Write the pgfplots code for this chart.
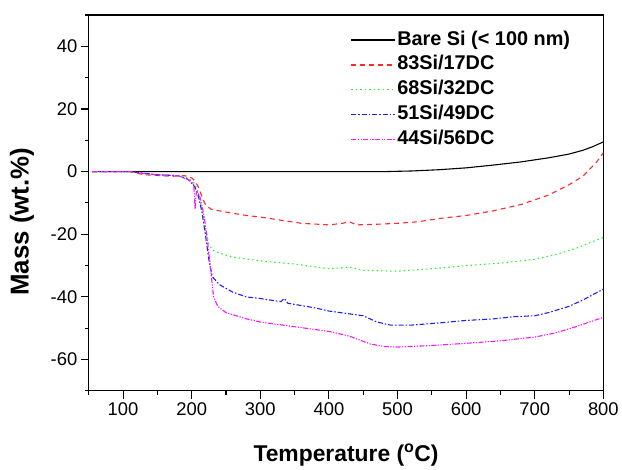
\documentclass[border=0pt]{standalone}
\usepackage{fontspec}
\setmainfont{Liberation Sans}
\usepackage{pgfplots}
\pgfplotsset{compat=1.18}
\definecolor{cred}{RGB}{255,40,40}
\definecolor{cgreen}{RGB}{40,240,40}
\definecolor{cblue}{RGB}{30,30,245}
\definecolor{cmag}{RGB}{250,20,250}

\begin{document}
\begin{tikzpicture}
\begin{axis}[
    name=ax,
    at={(0,0)}, anchor=south west,
    scale only axis,
    width=516bp, height=377bp,
    xmin=50, xmax=800,
    ymin=-70, ymax=50,
    xtick={100,200,...,800},
    ytick={-60,-40,...,40},
    minor xtick={50,150,...,750},
    minor ytick={-70,-50,...,50},
    xtick pos=bottom, ytick pos=left,
    tick align=outside,
    major tick length=8bp,
    minor tick length=4bp,
    axis line style={line width=1.1pt},
    tick style={line width=1.1pt, black},
    /pgf/number format/assume math mode=true,
    tick label style={font=\fontsize{18.5}{20}\selectfont},
    xlabel={Temperature (\textsuperscript{o}C)},
    ylabel={Mass (wt.\%)},
    xlabel style={font=\fontsize{23}{25}\selectfont\bfseries, yshift=-22bp},
    ylabel style={font=\fontsize{26}{28}\selectfont\bfseries, yshift=10bp,
        at={(ticklabel cs:0.45)}},
    legend style={
        draw=none, fill=none,
        at={(0.503,0.967)}, anchor=north west,
        font=\fontsize{20}{22}\selectfont\bfseries,
        cells={anchor=west},
        row sep=4bp,
        nodes={inner sep=1.5bp, text height=14bp, text depth=4bp},
    },
    every axis plot/.append style={line width=1.1pt},
]
\addplot[color=black,
    legend image code/.code={\draw[black, line width=1.1pt] (0bp,0bp) -- (44bp,0bp);}] coordinates {
(55,0) (100,0) (200,0) (300,0) (400,0) (480,0) (520,0.2) (560,0.6) (600,1.2)
(640,2.1) (680,3.1) (720,4.4) (750,5.6) (770,6.8) (785,8) (800,9.5)};
\addlegendentry{Bare Si (< 100 nm)}
\addplot[color=cred, dash pattern=on 5bp off 4bp,
    legend image code/.code={\draw[cred, line width=1.1pt, dash pattern=on 5bp off 4bp] (0bp,0bp) -- (44bp,0bp);}] coordinates {
(55,0) (110,0) (120,-0.5) (130,-1) (150,-1.2) (170,-1.5) (190,-1.3) (200,-2)
(205,-3) (210,-5) (215,-8) (220,-10.5) (228,-12) (240,-12.5) (260,-13.3)
(280,-14) (300,-14.5) (330,-15.5) (360,-16.5) (400,-17) (420,-16.5) (430,-16)
(440,-17) (470,-16.8) (500,-16.5) (530,-16) (560,-15) (600,-14) (640,-12.5)
(680,-10.5) (720,-7.5) (750,-4.2) (770,-1.5) (790,3) (800,6)};
\addlegendentry{83Si/17DC}
\addplot[color=cgreen, dash pattern=on 1.5bp off 3bp,
    legend image code/.code={\draw[cgreen, line width=1.1pt, dash pattern=on 1.5bp off 3bp] (0bp,0bp) -- (44bp,0bp);}] coordinates {
(55,0) (110,0) (130,-0.8) (150,-1) (180,-1.2) (195,-2) (205,-4) (210,-7)
(215,-12) (220,-18) (225,-23) (230,-25) (240,-26) (260,-27.3) (300,-28.5)
(350,-29.5) (400,-31) (430,-30.5) (450,-31.5) (500,-31.8) (550,-31) (600,-30)
(650,-29.2) (700,-28) (730,-26.5) (760,-24.5) (800,-21)};
\addlegendentry{68Si/32DC}
\addplot[color=cblue, dash pattern=on 5bp off 2bp on 1.5bp off 2bp,
    legend image code/.code={\draw[cblue, line width=1.1pt, dash pattern=on 5bp off 2bp on 1.5bp off 2bp] (0bp,0bp) -- (44bp,0bp);}] coordinates {
(55,0) (110,0) (130,-0.5) (150,-1) (180,-1.3) (195,-2.5) (205,-5) (210,-8)
(215,-13) (220,-20) (225,-28) (230,-33.5) (240,-36) (260,-38.5) (280,-40)
(300,-40.5) (330,-41.5) (335,-40.5) (340,-42) (380,-43.5) (400,-44.5) (450,-46)
(470,-48) (490,-49) (520,-49) (560,-48.3) (600,-47.5) (640,-47) (670,-46.3)
(700,-46) (720,-45) (750,-43) (770,-41) (800,-37.5)};
\addlegendentry{51Si/49DC}
\addplot[color=cmag, dash pattern=on 5bp off 1.5bp on 1.2bp off 1.5bp on 1.2bp off 1.5bp,
    legend image code/.code={\draw[cmag, line width=1.1pt, dash pattern=on 5bp off 1.5bp on 1.2bp off 1.5bp on 1.2bp off 1.5bp] (0bp,0bp) -- (44bp,0bp);}] coordinates {
(55,0) (110,0) (130,-0.6) (150,-1) (180,-1.3) (195,-2.5) (203,-4) (205,-12)
(207,-6) (212,-8) (218,-14) (223,-22) (228,-32) (232,-40) (238,-43) (250,-45)
(280,-47) (300,-48) (350,-49.5) (400,-51) (430,-52.5) (460,-55) (480,-55.8)
(500,-56) (550,-55.5) (600,-54.8) (650,-54) (700,-52.8) (730,-51.5)
(760,-49.5) (800,-46.5)};
\addlegendentry{44Si/56DC}
\end{axis}
\path (-89bp,-76bp) rectangle (533bp,392bp);
\end{tikzpicture}
\end{document}
